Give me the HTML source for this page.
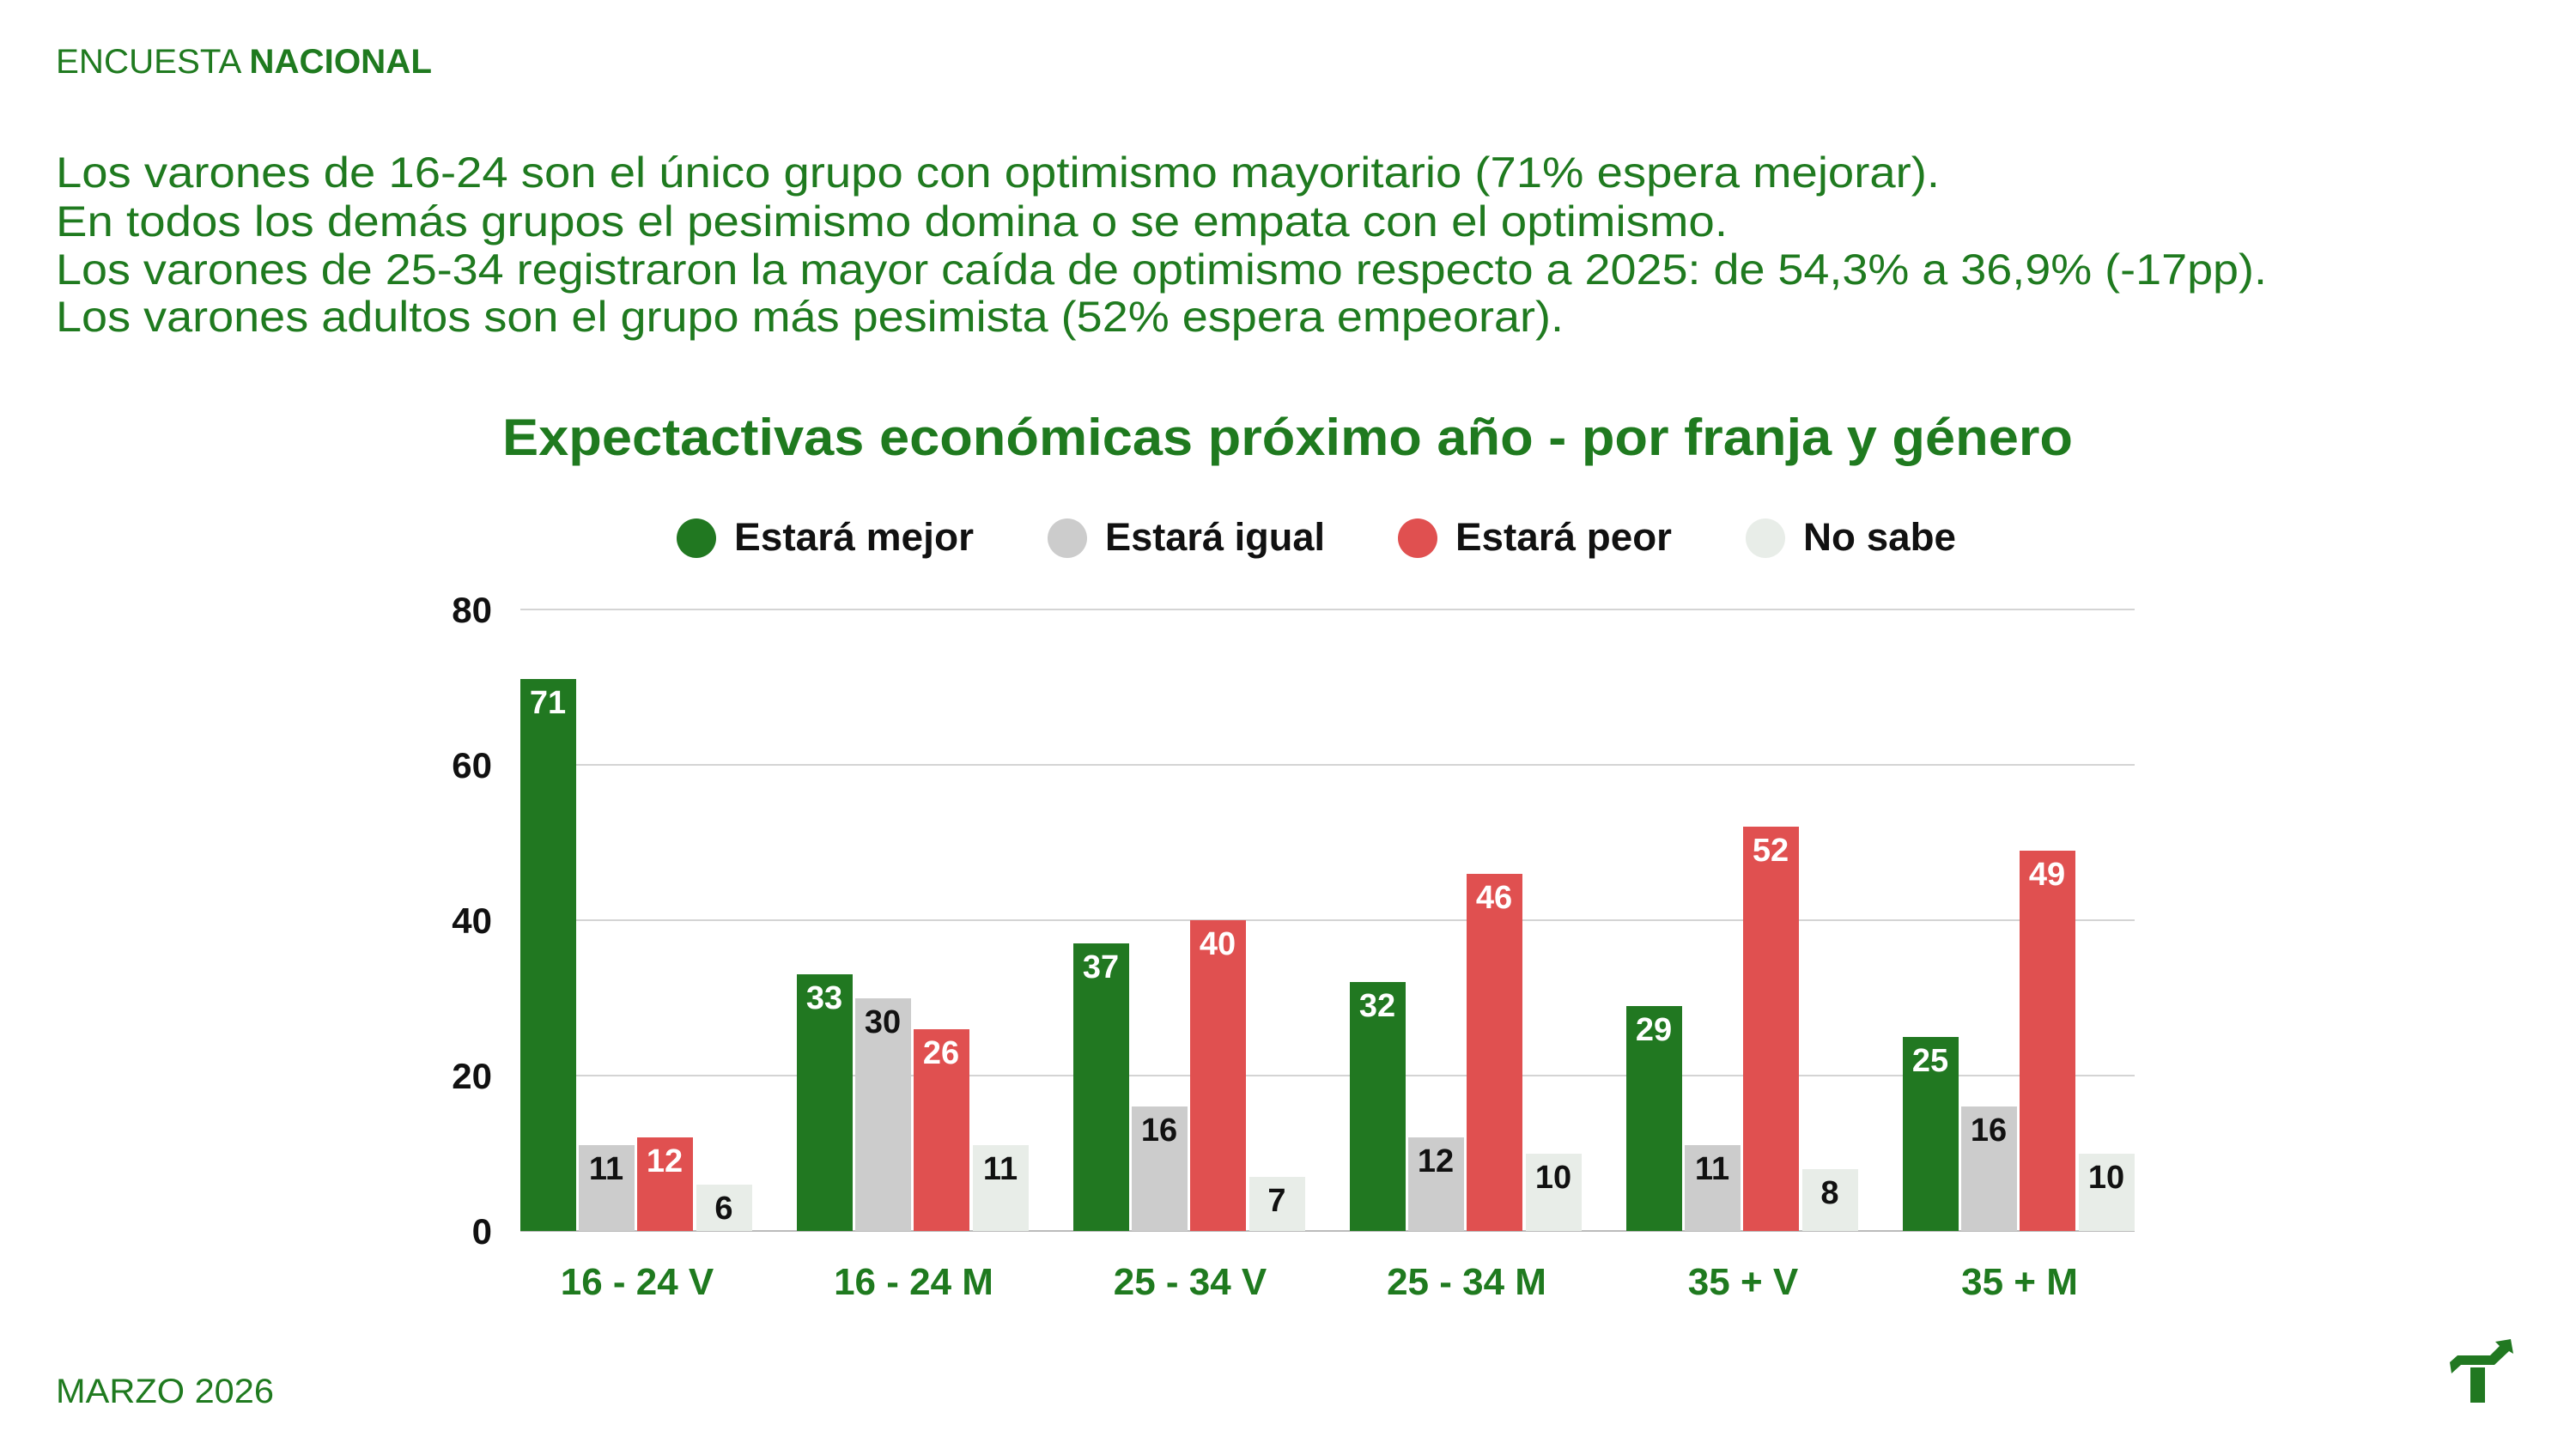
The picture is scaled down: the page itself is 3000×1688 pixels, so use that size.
<!DOCTYPE html>
<html><head><meta charset="utf-8"><style>html,body{margin:0;padding:0;background:#fff}svg{display:block}</style></head>
<body>
<svg width="3000" height="1688" viewBox="0 0 3000 1688" xmlns="http://www.w3.org/2000/svg" font-family="'Liberation Sans', sans-serif">
<rect width="3000" height="1688" fill="#fff"/>
<text x="65" y="85" font-size="40" fill="#1f7a1f" textLength="438" lengthAdjust="spacingAndGlyphs">ENCUESTA <tspan font-weight="bold">NACIONAL</tspan></text>
<g font-size="50" fill="#1f7a1f">
<text x="65" y="218" textLength="2194" lengthAdjust="spacingAndGlyphs">Los varones de 16-24 son el único grupo con optimismo mayoritario (71% espera mejorar).</text>
<text x="65" y="275" textLength="1947" lengthAdjust="spacingAndGlyphs">En todos los demás grupos el pesimismo domina o se empata con el optimismo.</text>
<text x="65" y="331" textLength="2575" lengthAdjust="spacingAndGlyphs">Los varones de 25-34 registraron la mayor caída de optimismo respecto a 2025: de 54,3% a 36,9% (-17pp).</text>
<text x="65" y="386" textLength="1756" lengthAdjust="spacingAndGlyphs">Los varones adultos son el grupo más pesimista (52% espera empeorar).</text>
</g>
<text x="585" y="530" font-size="60" font-weight="bold" fill="#1f7a1f" textLength="1829" lengthAdjust="spacingAndGlyphs">Expectactivas económicas próximo año - por franja y género</text>
<g font-size="45" font-weight="bold" fill="#111">
<circle cx="811" cy="627" r="23" fill="#217821"/><text x="855" y="641" textLength="279" lengthAdjust="spacingAndGlyphs">Estará mejor</text>
<circle cx="1243" cy="627" r="23" fill="#cccccc"/><text x="1287" y="641" textLength="256" lengthAdjust="spacingAndGlyphs">Estará igual</text>
<circle cx="1651" cy="627" r="23" fill="#e05050"/><text x="1695" y="641" textLength="252" lengthAdjust="spacingAndGlyphs">Estará peor</text>
<circle cx="2056" cy="627" r="23" fill="#e8ede8"/><text x="2100" y="641" textLength="178" lengthAdjust="spacingAndGlyphs">No sabe</text>
</g>
<g stroke="#d4d4d4" stroke-width="2">
<line x1="606" y1="710" x2="2486" y2="710"/><line x1="606" y1="891" x2="2486" y2="891"/>
<line x1="606" y1="1072" x2="2486" y2="1072"/><line x1="606" y1="1253" x2="2486" y2="1253"/>
<line x1="606" y1="1434" x2="2486" y2="1434" stroke="#bbb"/>
</g>
<g font-size="42" font-weight="bold" fill="#111" text-anchor="end">
<text x="573" y="725">80</text><text x="573" y="906">60</text><text x="573" y="1087">40</text><text x="573" y="1268">20</text><text x="573" y="1449">0</text>
</g>
<g font-size="38" font-weight="bold" text-anchor="middle">
<rect x="606" y="791" width="65" height="643" fill="#217821"/><text x="638" y="831" fill="#fff">71</text>
<rect x="674" y="1334" width="65" height="100" fill="#cccccc"/><text x="706" y="1374" fill="#111">11</text>
<rect x="742" y="1325" width="65" height="109" fill="#e05050"/><text x="774" y="1365" fill="#fff">12</text>
<rect x="811" y="1380" width="65" height="54" fill="#e8ede8"/><text x="843" y="1420" fill="#111">6</text>

<rect x="928" y="1135" width="65" height="299" fill="#217821"/><text x="960" y="1175" fill="#fff">33</text>
<rect x="996" y="1163" width="65" height="271" fill="#cccccc"/><text x="1028" y="1203" fill="#111">30</text>
<rect x="1064" y="1199" width="65" height="235" fill="#e05050"/><text x="1096" y="1239" fill="#fff">26</text>
<rect x="1133" y="1334" width="65" height="100" fill="#e8ede8"/><text x="1165" y="1374" fill="#111">11</text>

<rect x="1250" y="1099" width="65" height="335" fill="#217821"/><text x="1282" y="1139" fill="#fff">37</text>
<rect x="1318" y="1289" width="65" height="145" fill="#cccccc"/><text x="1350" y="1329" fill="#111">16</text>
<rect x="1386" y="1072" width="65" height="362" fill="#e05050"/><text x="1418" y="1112" fill="#fff">40</text>
<rect x="1455" y="1371" width="65" height="63" fill="#e8ede8"/><text x="1487" y="1411" fill="#111">7</text>

<rect x="1572" y="1144" width="65" height="290" fill="#217821"/><text x="1604" y="1184" fill="#fff">32</text>
<rect x="1640" y="1325" width="65" height="109" fill="#cccccc"/><text x="1672" y="1365" fill="#111">12</text>
<rect x="1708" y="1018" width="65" height="416" fill="#e05050"/><text x="1740" y="1058" fill="#fff">46</text>
<rect x="1777" y="1344" width="65" height="90" fill="#e8ede8"/><text x="1809" y="1384" fill="#111">10</text>

<rect x="1894" y="1172" width="65" height="262" fill="#217821"/><text x="1926" y="1212" fill="#fff">29</text>
<rect x="1962" y="1334" width="65" height="100" fill="#cccccc"/><text x="1994" y="1374" fill="#111">11</text>
<rect x="2030" y="963" width="65" height="471" fill="#e05050"/><text x="2062" y="1003" fill="#fff">52</text>
<rect x="2099" y="1362" width="65" height="72" fill="#e8ede8"/><text x="2131" y="1402" fill="#111">8</text>

<rect x="2216" y="1208" width="65" height="226" fill="#217821"/><text x="2248" y="1248" fill="#fff">25</text>
<rect x="2284" y="1289" width="65" height="145" fill="#cccccc"/><text x="2316" y="1329" fill="#111">16</text>
<rect x="2352" y="991" width="65" height="443" fill="#e05050"/><text x="2384" y="1031" fill="#fff">49</text>
<rect x="2421" y="1344" width="65" height="90" fill="#e8ede8"/><text x="2453" y="1384" fill="#111">10</text>
</g>
<g font-size="44" font-weight="bold" fill="#1f7a1f" text-anchor="middle">
<text x="742" y="1508">16 - 24 V</text>
<text x="1064" y="1508">16 - 24 M</text>
<text x="1386" y="1508">25 - 34 V</text>
<text x="1708" y="1508">25 - 34 M</text>
<text x="2030" y="1508">35 + V</text>
<text x="2352" y="1508">35 + M</text>
</g>
<text x="65" y="1634" font-size="40" fill="#1f7a1f" textLength="254" lengthAdjust="spacingAndGlyphs">MARZO 2026</text>
<g fill="#217821">
<rect x="2877" y="1593" width="17" height="41"/>
<polygon points="2853,1587 2862,1579 2900,1579 2911,1568 2906,1563 2924,1560 2927,1577 2922,1574 2905,1590 2866,1590 2855,1600"/>
</g>
</svg>
</body></html>
